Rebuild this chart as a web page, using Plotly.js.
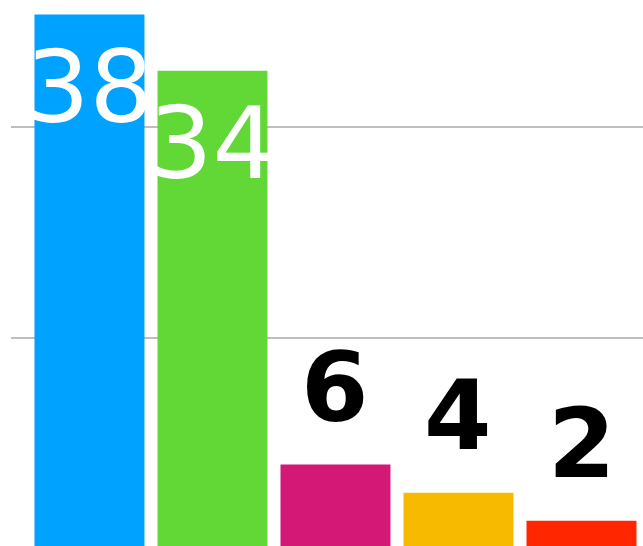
<!DOCTYPE html>
<html>
<head>
<meta charset="utf-8">
<script src="https://cdn.plot.ly/plotly-3.0.1.min.js"></script>
<style>html,body{margin:0;padding:0;background:#fff;}#chart{width:643px;height:546px;}</style>
</head>
<body>
<div id="chart"></div>
<script>
const categories = ['A', 'B', 'C', 'D', 'E'];
const values = [38, 34, 6, 4, 2];
const labels = ['38', '34', '6', '4', '2'];
const colors = ['#00A2FF', '#61D836', '#D41876', '#F8BA00', '#FF2600'];

const insideThreshold = 20;

const trace = {
  type: 'bar',
  x: categories,
  y: values,
  marker: {color: colors, line: {width: 0}},
  hoverinfo: 'skip'
};

const annotations = values.map((v, i) => {
  const inside = v > insideThreshold;
  return {
    x: categories[i],
    y: v,
    xref: 'x',
    yref: 'y',
    text: labels[i],
    showarrow: false,
    xanchor: 'center',
    yanchor: 'middle',
    yshift: inside ? -73 : 77.5,
    font: inside
      ? {family: 'DejaVu Sans', size: 100, color: '#FFFFFF'}
      : {family: 'DejaVu Sans', size: 97, color: '#000000', weight: 'bold'}
  };
});

const layout = {
  width: 643,
  height: 546,
  margin: {l: 11, r: 0, t: 0, b: 0, pad: 0},
  paper_bgcolor: '#FFFFFF',
  plot_bgcolor: '#FFFFFF',
  showlegend: false,
  bargap: 0.106,
  xaxis: {
    type: 'category',
    range: [-0.638, 4.5],
    showgrid: false,
    zeroline: false,
    showticklabels: false,
    ticks: '',
    showline: false
  },
  yaxis: {
    range: [0.21, 39.03],
    tick0: 0,
    dtick: 15,
    showgrid: true,
    gridcolor: '#BEBEBE',
    gridwidth: 2,
    zeroline: false,
    showticklabels: false,
    ticks: '',
    showline: false
  },
  annotations: annotations
};

Plotly.newPlot('chart', [trace], layout, {displayModeBar: false, staticPlot: true});
</script>
</body>
</html>
